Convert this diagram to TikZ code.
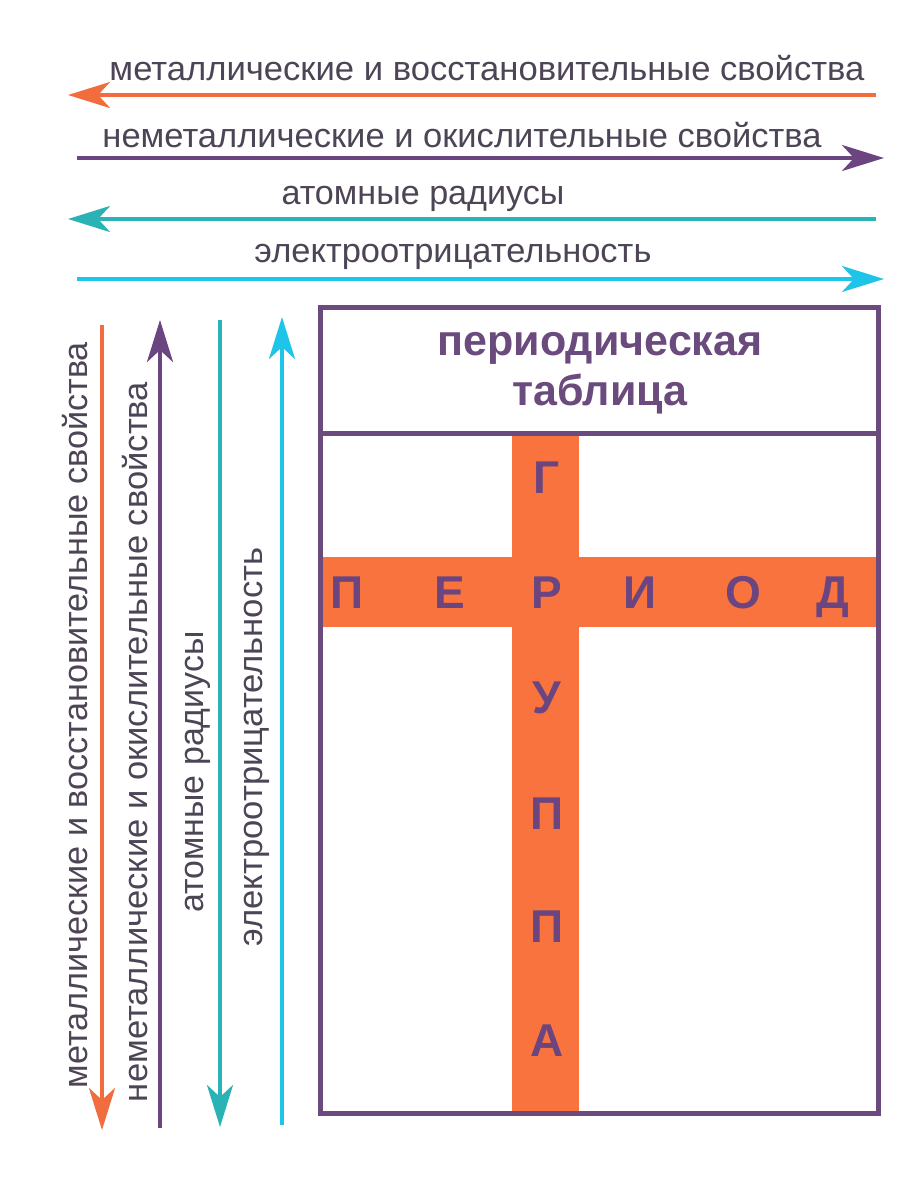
\documentclass[tikz,border=0pt]{standalone}
\usepackage{fontspec}
\setmainfont{Liberation Sans}
\usetikzlibrary{arrows.meta}
\definecolor{orng}{HTML}{F26D3D}
\definecolor{purp}{HTML}{6A4580}
\definecolor{tealc}{HTML}{2BB2B5}
\definecolor{cyanc}{HTML}{1FC5E8}
\definecolor{txtc}{HTML}{4D4456}
\definecolor{barc}{HTML}{F9733F}
\definecolor{boxc}{HTML}{6B4A7E}
\newcommand\fitw[2]{\resizebox{#1pt}{\height}{#2}}
\tikzset{
  arr/.style={line width=4pt, -{Stealth[length=42pt,width=26pt,inset=12pt]}},
  lbl/.style={text=txtc, inner sep=0pt, anchor=base, font=\fontsize{34}{34}\selectfont},
  vlbl/.style={lbl, rotate=90},
  letter/.style={text=purp, inner sep=0pt, anchor=base, font=\fontsize{46}{46}\selectfont\bfseries},
  titletxt/.style={text=boxc, inner sep=0pt, anchor=base, font=\fontsize{43}{43}\selectfont\bfseries},
  frame/.style={draw=boxc, line width=5pt},
}
\begin{document}
\begin{tikzpicture}[x=1pt,y=-1pt]
\useasboundingbox (0,0) rectangle (908,1200);
\fill[white] (0,0) rectangle (908,1200);

% horizontal arrows
\coordinate (h1s) at (876,95);  \coordinate (h1e) at (68,95);
\coordinate (h2s) at (77,158);  \coordinate (h2e) at (884,158);
\coordinate (h3s) at (876,219); \coordinate (h3e) at (68,219);
\coordinate (h4s) at (77,279);  \coordinate (h4e) at (884,279);
\draw[arr, orng] (h1s) -- (h1e);
\draw[arr, purp] (h2s) -- (h2e);
\draw[arr, tealc] (h3s) -- (h3e);
\draw[arr, cyanc] (h4s) -- (h4e);
\node[lbl] (t1) at (487,80) {\fitw{755}{металлические и восстановительные свойства}};
\node[lbl] (t2) at (462,147) {\fitw{719}{неметаллические и окислительные свойства}};
\node[lbl] (t3) at (423,204) {\fitw{283}{атомные радиусы}};
\node[lbl] (t4) at (453,262) {\fitw{397}{электроотрицательность}};

% vertical arrows
\coordinate (v1s) at (102,325);  \coordinate (v1e) at (102,1130);
\coordinate (v2s) at (160,1128); \coordinate (v2e) at (160,320);
\coordinate (v3s) at (220,320);  \coordinate (v3e) at (220,1127);
\coordinate (v4s) at (282,1125); \coordinate (v4e) at (282,317);
\draw[arr, orng] (v1s) -- (v1e);
\draw[arr, purp] (v2s) -- (v2e);
\draw[arr, tealc] (v3s) -- (v3e);
\draw[arr, cyanc] (v4s) -- (v4e);
\node[vlbl] (u1) at (87,715) {\fitw{746}{металлические и восстановительные свойства}};
\node[vlbl] (u2) at (147,742) {\fitw{720}{неметаллические и окислительные свойства}};
\node[vlbl] (u3) at (203,772) {\fitw{281}{атомные радиусы}};
\node[vlbl] (u4) at (262,747) {\fitw{399}{электроотрицательность}};

% table
\fill[barc] (512,433) rectangle (579,1113);
\fill[barc] (320,557) rectangle (878,627);
\draw[frame] (320,307) rectangle (878,1113);
\draw[frame] (320,433) -- (878,433);
\node[titletxt] (ti1) at (600,355) {периодическая};
\node[titletxt] (ti2) at (600,405) {таблица};

% ПЕРИОД
\node[letter] (p1) at (347,608) {П};
\node[letter] (p2) at (450,608) {Е};
\node[letter] (p3) at (547,608) {Р};
\node[letter] (p4) at (640,608) {И};
\node[letter] (p5) at (743,608) {О};
\node[letter] (p6) at (833,608) {Д};
% ГРУППА
\node[letter] (g1) at (547,493) {Г};
\node[letter] (g3) at (547,713) {У};
\node[letter] (g4) at (547,829) {П};
\node[letter] (g5) at (547,942) {П};
\node[letter] (g6) at (547,1056) {А};
\end{tikzpicture}
\end{document}
